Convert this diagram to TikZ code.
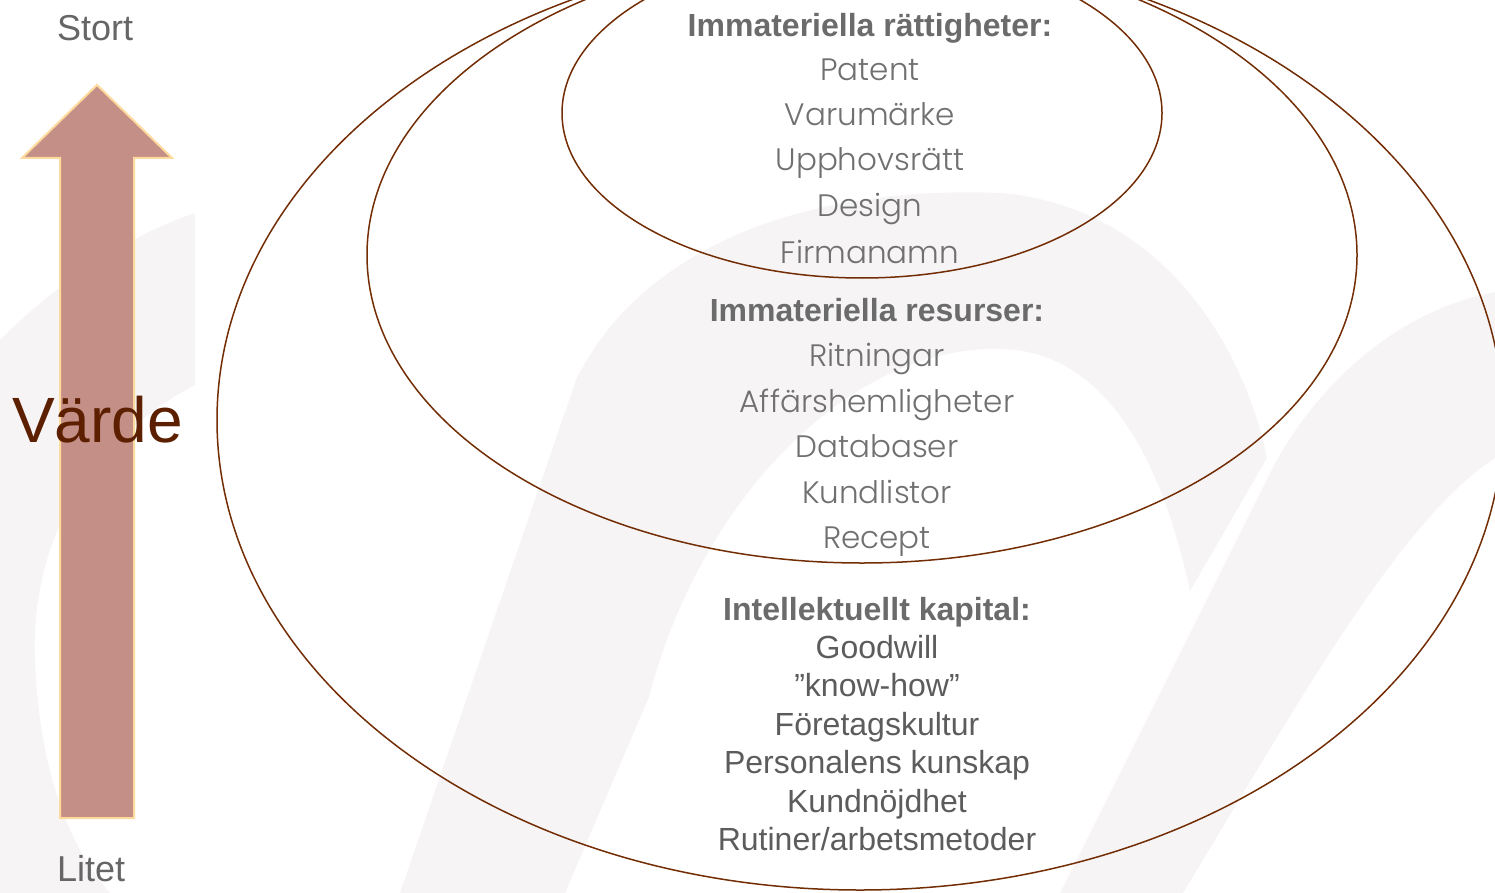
\documentclass[tikz,border=0pt]{standalone}
\usepackage{fontspec}
\setmainfont{Liberation Sans}
\newfontfamily\gothic{Poppins Light}
\usetikzlibrary{shapes.geometric}
\definecolor{ringc}{RGB}{115,45,5}
\definecolor{wmc}{RGB}{246,244,245}
\definecolor{arrowfill}{RGB}{196,143,135}
\definecolor{arrowline}{RGB}{253,217,155}
\definecolor{vardec}{RGB}{92,31,0}
\definecolor{headc}{RGB}{107,107,107}
\definecolor{itemc}{RGB}{112,112,112}
\definecolor{lowc}{RGB}{92,92,92}
\definecolor{sidec}{RGB}{102,102,102}
\tikzset{
  ringnode/.style={draw=ringc, line width=1.5pt, ellipse, inner sep=0pt},
  wm/.style={fill=wmc},
  head/.style={anchor=base, inner sep=0pt, text=headc, font=\fontsize{32}{32}\selectfont\bfseries},
  item/.style={anchor=base, inner sep=0pt, text=itemc, font=\fontsize{31}{31}\selectfont\gothic},
  low/.style={anchor=base, inner sep=0pt, text=lowc, font=\fontsize{32}{32}\selectfont},
  side/.style={anchor=base west, inner sep=0pt, text=sidec, font=\fontsize{36}{36}\selectfont},
}
\begin{document}
\begin{tikzpicture}[x=1pt,y=-1pt]
\path[use as bounding box] (0,0) rectangle (1495,893);
\clip (0,0) rectangle (1495,893);
% faint watermark
\fill[wm] (195,213) -- (195,385) .. controls (90,440) and (30,540) .. (35,660)
  .. controls (40,790) and (80,860) .. (110,893) -- (0,893) -- (0,340)
  .. controls (60,280) and (130,235) .. (195,213) -- cycle;
\fill[wm] (400,893) -- (576,380) .. controls (640,250) and (800,185) .. (1000,193)
  .. controls (1150,205) and (1240,330) .. (1267,458) -- (1190,591)
  .. controls (1160,450) and (1100,350) .. (1000,349)
  .. controls (850,345) and (700,500) .. (649,697) -- (565,893) -- cycle;
\fill[wm] (1495,292) .. controls (1400,310) and (1320,380) .. (1273,467) -- (1060,893)
  -- (1183,893) .. controls (1300,700) and (1400,520) .. (1495,458) -- cycle;
% ellipses
\node[ringnode, minimum width=1286, minimum height=940] (outer) at (860,420) {};
\node[ringnode, minimum width=990, minimum height=616] (middle) at (862,255) {};
\node[ringnode, minimum width=600, minimum height=330] (inner) at (862,113) {};
% arrow
\fill[arrowfill, draw=arrowline, line width=2pt, line join=miter]
  (60,818) -- (60,158) -- (22,158) -- (97,85) -- (172,158) -- (134,158) -- (134,818) -- cycle;
% side labels
\node[side] (stort) at (57,41) {Stort};
\node[side] (litet) at (57,881) {Litet};
\node[anchor=base west, inner sep=0pt, text=vardec, font=\fontsize{64}{64}\selectfont] (varde) at (12,442) {Värde};
% inner ellipse
\node[head] (h1) at (870,37) {Immateriella rättigheter:};
\node[item] (a1) at (870,81) {Patent};
\node[item] (a2) at (870,126) {Varumärke};
\node[item] (a3) at (870,171) {Upphovsrätt};
\node[item] (a4) at (870,217) {Design};
\node[item] (a5) at (870,263) {Firmanamn};
% middle ellipse
\node[head] (h2) at (877,321) {Immateriella resurser:};
\node[item] (b1) at (877,366) {Ritningar};
\node[item] (b2) at (877,412) {Affärshemligheter};
\node[item] (b3) at (877,457) {Databaser};
\node[item] (b4) at (877,503) {Kundlistor};
\node[item] (b5) at (877,548) {Recept};
% outer ellipse
\node[head] (h3) at (877,620) {Intellektuellt kapital:};
\node[low] (c1) at (877,658) {Goodwill};
\node[low] (c2) at (877,696) {”know-how”};
\node[low] (c3) at (877,735) {Företagskultur};
\node[low] (c4) at (877,773) {Personalens kunskap};
\node[low] (c5) at (877,812) {Kundnöjdhet};
\node[low] (c6) at (877,850) {Rutiner/arbetsmetoder};
\end{tikzpicture}
\end{document}
